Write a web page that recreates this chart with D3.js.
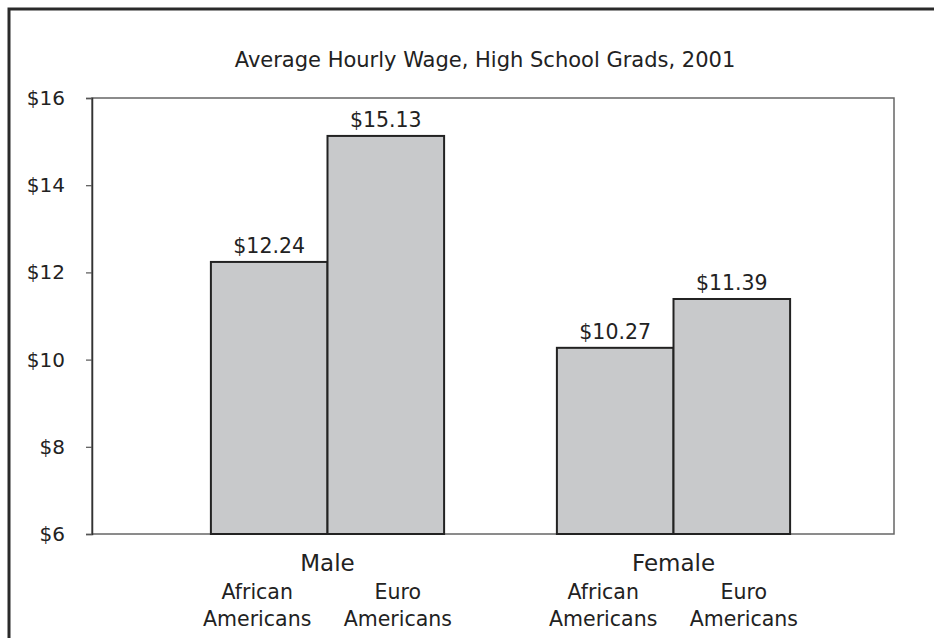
<!DOCTYPE html>
<html>
<head>
<meta charset="utf-8">
<script src="https://cdn.jsdelivr.net/npm/d3@7"></script>
<style>
  body { margin: 0; background: #fff; }
  text { font-family: "DejaVu Sans", sans-serif; fill: #222; }
</style>
</head>
<body>
<div id="chart"></div>
<script>
var width = 934,
    height = 638;

var groups = ["Male", "Female"];
var subgroups = ["African Americans", "Euro Americans"];
var wages = [[12.24, 15.13], [10.27, 11.39]];
var yTicks = [6, 8, 10, 12, 14, 16];
var title = "Average Hourly Wage, High School Grads, 2001";

var plot = { left: 92, right: 894, top: 98, bottom: 534 };

var svg = d3.select("#chart").append("svg")
    .attr("width", width)
    .attr("height", height);

// outer frame (runs off the right and bottom edges)
svg.append("rect")
    .attr("x", 9)
    .attr("y", 9)
    .attr("width", 960)
    .attr("height", 660)
    .attr("fill", "none")
    .attr("stroke", "#2a2a2a")
    .attr("stroke-width", 3);

var y = d3.scaleLinear()
    .domain([6, 16])
    .range([plot.bottom, plot.top]);

var x0 = d3.scaleBand()
    .domain(groups)
    .range([154.5, 846.5])
    .paddingInner(0.326)
    .paddingOuter(0.163);

var x1 = d3.scaleBand()
    .domain(subgroups)
    .range([0, x0.bandwidth()]);

// plot box
svg.append("rect")
    .attr("x", plot.left)
    .attr("y", plot.top)
    .attr("width", plot.right - plot.left)
    .attr("height", plot.bottom - plot.top)
    .attr("fill", "none")
    .attr("stroke", "#666")
    .attr("stroke-width", 1.5);

var yAxis = svg.append("g")
    .attr("transform", "translate(" + plot.left + ",0)")
    .call(d3.axisLeft(y).tickValues(yTicks).tickSize(6).tickPadding(21)
        .tickFormat(function (d) { return "$" + d; }));
yAxis.select(".domain").attr("stroke", "#333").attr("stroke-width", 1.5);
yAxis.selectAll(".tick line").attr("stroke", "#555").attr("stroke-width", 1.2);
yAxis.selectAll(".tick text")
    .attr("font-size", 20)
    .attr("font-family", "DejaVu Sans, sans-serif")
    .attr("fill", "#222");

svg.append("text")
    .attr("x", 485)
    .attr("y", 67)
    .attr("text-anchor", "middle")
    .attr("font-size", 21)
    .text(title);

var g = svg.selectAll(".group")
    .data(groups)
    .enter().append("g")
    .attr("class", "group")
    .attr("transform", function (d) { return "translate(" + x0(d) + ",0)"; });

g.selectAll("rect")
    .data(function (d, i) { return wages[i].map(function (v, j) { return { key: subgroups[j], value: v }; }); })
    .enter().append("rect")
    .attr("x", function (d) { return x1(d.key); })
    .attr("y", function (d) { return y(d.value); })
    .attr("width", x1.bandwidth())
    .attr("height", function (d) { return y(6) - y(d.value); })
    .attr("fill", "#c8c9cb")
    .attr("stroke", "#222")
    .attr("stroke-width", 2);

g.selectAll(".val")
    .data(function (d, i) { return wages[i].map(function (v, j) { return { key: subgroups[j], value: v }; }); })
    .enter().append("text")
    .attr("class", "val")
    .attr("x", function (d) { return x1(d.key) + x1.bandwidth() / 2; })
    .attr("y", function (d) { return y(d.value) - 9; })
    .attr("text-anchor", "middle")
    .attr("font-size", 20.5)
    .text(function (d) { return "$" + d.value.toFixed(2); });

g.append("text")
    .attr("x", x0.bandwidth() / 2)
    .attr("y", 571)
    .attr("text-anchor", "middle")
    .attr("font-size", 23)
    .text(function (d) { return d; });

subgroups.forEach(function (s, j) {
    var shift = j === 0 ? -12 : 12;
    var words = s.split(" ");
    var t = g.append("text")
        .attr("text-anchor", "middle")
        .attr("font-size", 20.5);
    words.forEach(function (w, k) {
        t.append("tspan")
            .attr("x", x1(s) + x1.bandwidth() / 2 + shift)
            .attr("y", 599 + k * 27)
            .text(w);
    });
});
</script>
</body>
</html>
